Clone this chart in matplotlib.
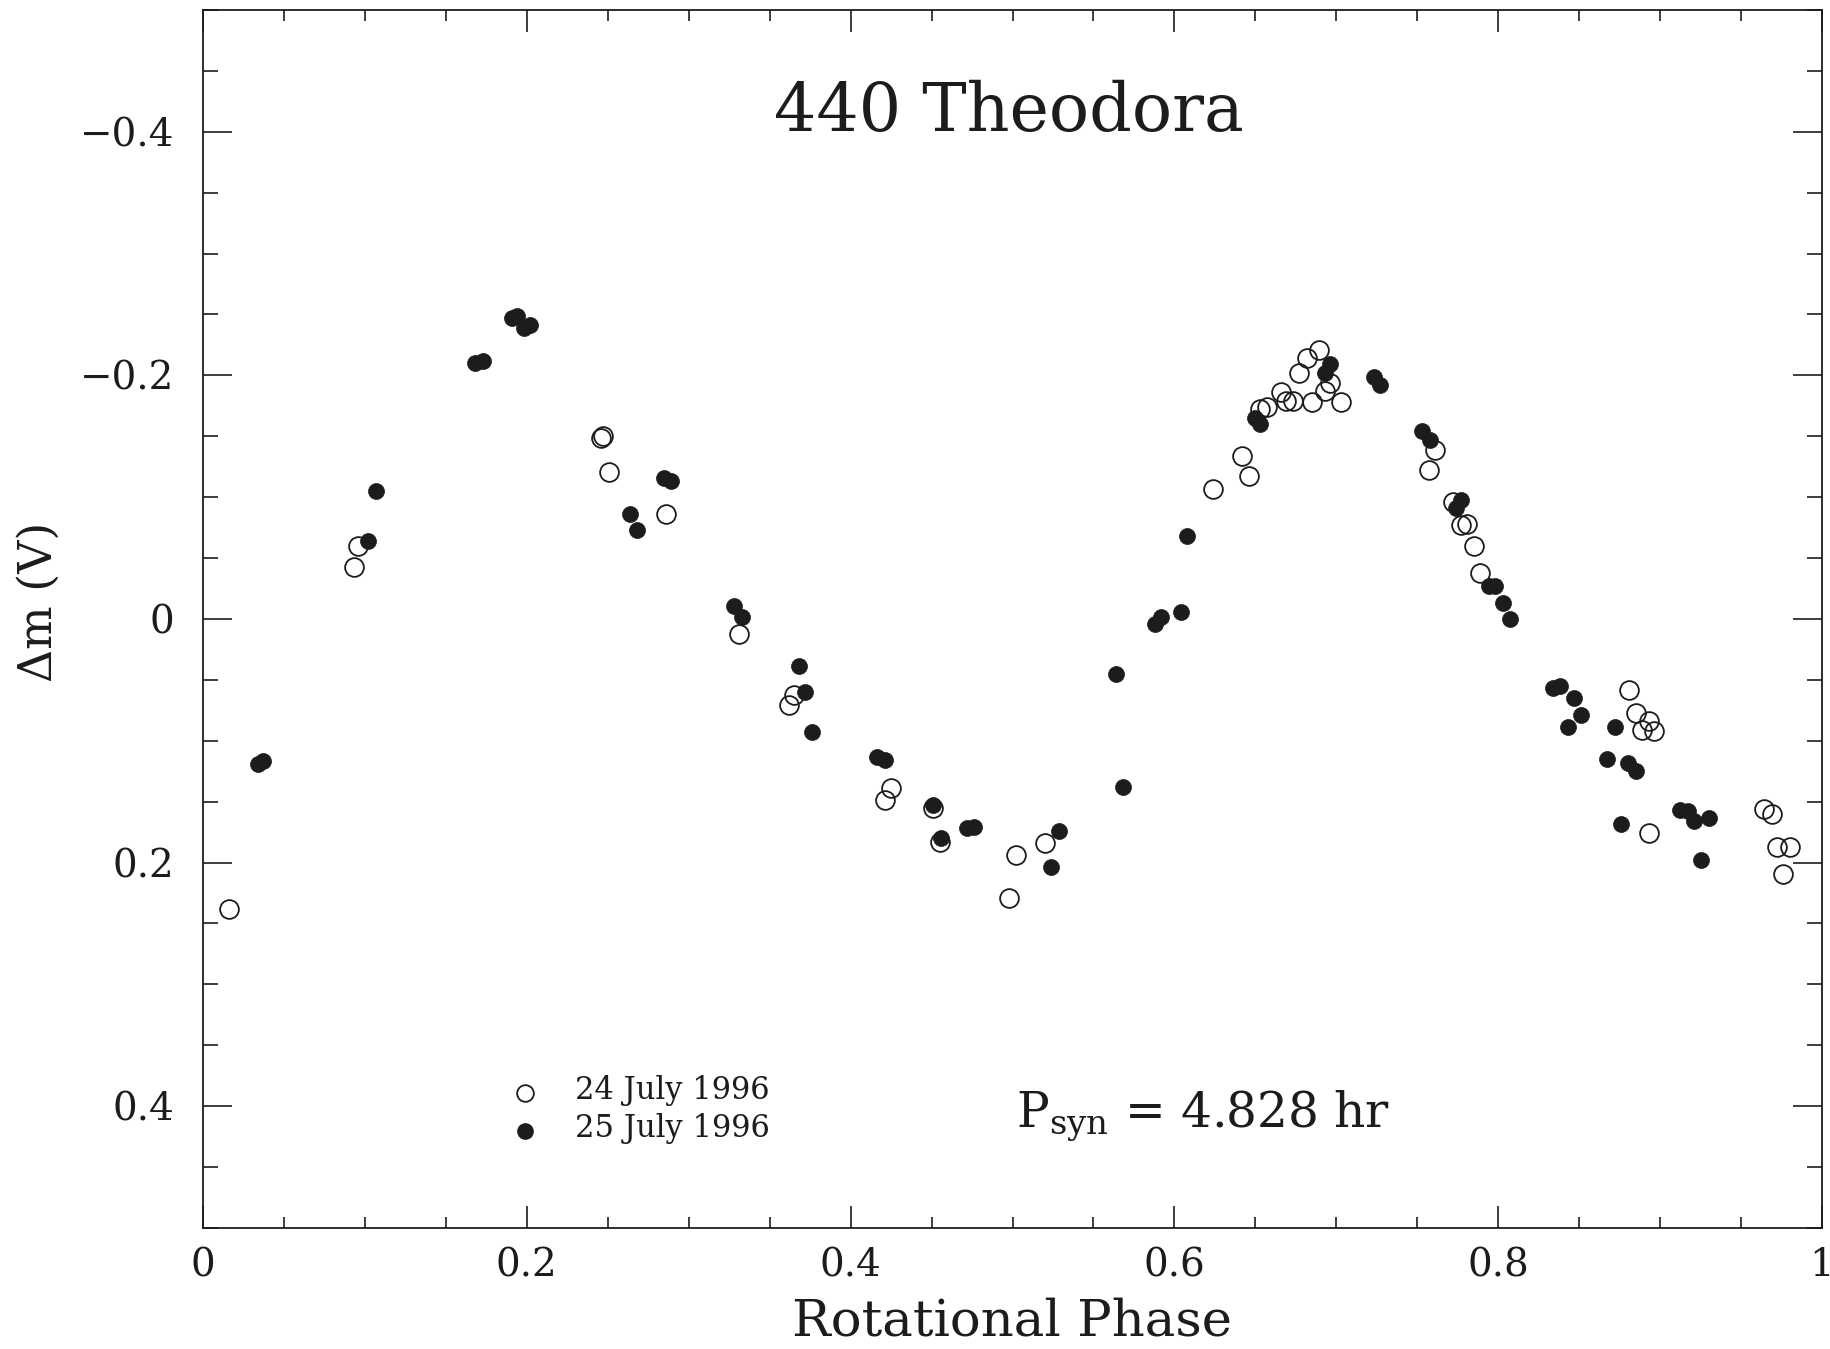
import numpy as np
import matplotlib
matplotlib.use("Agg")
import matplotlib.pyplot as plt
from matplotlib.ticker import MultipleLocator, FixedLocator

plt.rcParams['font.family'] = ['DejaVu Serif']
plt.rcParams['mathtext.fontset'] = 'dejavuserif'

# 24 July 1996 (open circles): phase, delta mag
phase_24 = [0.016, 0.093, 0.096, 0.246, 0.247, 0.251, 0.286, 0.331, 0.362, 0.365,
            0.421, 0.425, 0.451, 0.455, 0.498, 0.502, 0.520, 0.624, 0.642, 0.646,
            0.653, 0.657, 0.666, 0.669, 0.673, 0.677, 0.682, 0.685, 0.689, 0.693,
            0.696, 0.703, 0.757, 0.761, 0.772, 0.777, 0.781, 0.785, 0.789, 0.881,
            0.885, 0.889, 0.893, 0.896, 0.893, 0.964, 0.969, 0.972, 0.980, 0.976]
dmag_24 = [0.238, -0.043, -0.060, -0.149, -0.150, -0.121, -0.086, 0.012, 0.071, 0.062,
           0.149, 0.139, 0.155, 0.183, 0.229, 0.194, 0.184, -0.107, -0.134, -0.117,
           -0.172, -0.174, -0.186, -0.179, -0.179, -0.202, -0.214, -0.178, -0.221, -0.187,
           -0.194, -0.178, -0.122, -0.139, -0.096, -0.077, -0.078, -0.060, -0.038, 0.058,
           0.077, 0.091, 0.084, 0.092, 0.176, 0.156, 0.160, 0.187, 0.187, 0.209]

# 25 July 1996 (filled circles)
phase_25 = [0.034, 0.037, 0.102, 0.107, 0.168, 0.173, 0.191, 0.194, 0.198, 0.202,
            0.264, 0.268, 0.285, 0.289, 0.328, 0.333, 0.368, 0.372, 0.376, 0.416,
            0.421, 0.451, 0.456, 0.472, 0.476, 0.524, 0.529, 0.564, 0.568, 0.588,
            0.592, 0.604, 0.608, 0.650, 0.653, 0.693, 0.696, 0.723, 0.727, 0.753,
            0.758, 0.774, 0.777, 0.794, 0.798, 0.803, 0.807, 0.834, 0.838, 0.847,
            0.843, 0.851, 0.872, 0.867, 0.880, 0.885, 0.876, 0.912, 0.917, 0.921,
            0.930, 0.925]
dmag_25 = [0.119, 0.117, -0.064, -0.105, -0.210, -0.212, -0.247, -0.249, -0.239, -0.241,
           -0.086, -0.073, -0.116, -0.113, -0.011, -0.002, 0.039, 0.060, 0.093, 0.113,
           0.116, 0.153, 0.180, 0.172, 0.171, 0.204, 0.174, 0.045, 0.138, 0.004,
           -0.002, -0.006, -0.068, -0.165, -0.160, -0.202, -0.209, -0.199, -0.192, -0.154,
           -0.147, -0.091, -0.098, -0.027, -0.027, -0.013, 0.000, 0.057, 0.055, 0.065,
           0.089, 0.079, 0.089, 0.115, 0.118, 0.125, 0.168, 0.157, 0.158, 0.166,
           0.163, 0.198]

x_ticks = [0, 0.2, 0.4, 0.6, 0.8, 1.0]
x_ticklabels = ['0', '0.2', '0.4', '0.6', '0.8', '1']
y_ticks = [-0.4, -0.2, 0, 0.2, 0.4]
y_ticklabels = ['\u22120.4', '\u22120.2', '0', '0.2', '0.4']

ink = '#1c1c1c'

fig = plt.figure(figsize=(18.31, 13.49), dpi=100)
ax = fig.add_axes([0.1109, 0.0897, 0.8842, 0.9029])

ax.plot(phase_24, dmag_24, 'o', ms=13.5, mfc='none', mec=ink, mew=1.3, ls='none')
ax.plot(phase_25, dmag_25, 'o', ms=11.5, mfc=ink, mec=ink, mew=0.5, ls='none')

ax.set_xlim(0, 1)
ax.set_ylim(0.5, -0.5)

ax.xaxis.set_major_locator(FixedLocator(x_ticks))
ax.set_xticklabels(x_ticklabels)
ax.xaxis.set_minor_locator(MultipleLocator(0.05))
ax.yaxis.set_major_locator(FixedLocator(y_ticks))
ax.set_yticklabels(y_ticklabels)
ax.yaxis.set_minor_locator(MultipleLocator(0.05))

ax.tick_params(axis='both', which='both', direction='in', top=True, right=True,
               color=ink, width=1.2, labelsize=28, labelcolor=ink)
ax.tick_params(axis='x', which='major', length=16, pad=14)
ax.tick_params(axis='x', which='minor', length=8)
ax.tick_params(axis='y', which='major', length=21, pad=21)
ax.tick_params(axis='y', which='minor', length=11)
for sp in ax.spines.values():
    sp.set_linewidth(1.3)
    sp.set_color(ink)

# axis labels placed on the figure so they sit where the original has them
fig.text(0.5527, 0.010, 'Rotational Phase', fontsize=37, color=ink,
         ha='center', va='baseline')
fig.text(0.0215, 0.554, '\u0394m (V)', fontsize=33, color=ink,
         ha='center', va='center', rotation=90)

ax.text(0.498, 0.916, '440 Theodora', transform=ax.transAxes, fontsize=48,
        ha='center', va='center', color=ink)

# legend drawn by hand
ax.plot([0.199], [0.111], 'o', ms=12, mfc='none', mec=ink, mew=1.3, transform=ax.transAxes)
ax.plot([0.199], [0.080], 'o', ms=11, mfc=ink, mec=ink, transform=ax.transAxes)
ax.text(0.230, 0.113, '24 July 1996', transform=ax.transAxes, fontsize=22,
        ha='left', va='center', color=ink)
ax.text(0.230, 0.082, '25 July 1996', transform=ax.transAxes, fontsize=22,
        ha='left', va='center', color=ink)

ax.text(0.502, 0.083, r'P$_{\mathrm{syn}}$ = 4.828 hr', transform=ax.transAxes,
        fontsize=35, ha='left', va='baseline', color=ink)

fig.savefig('out.png', dpi=100)
